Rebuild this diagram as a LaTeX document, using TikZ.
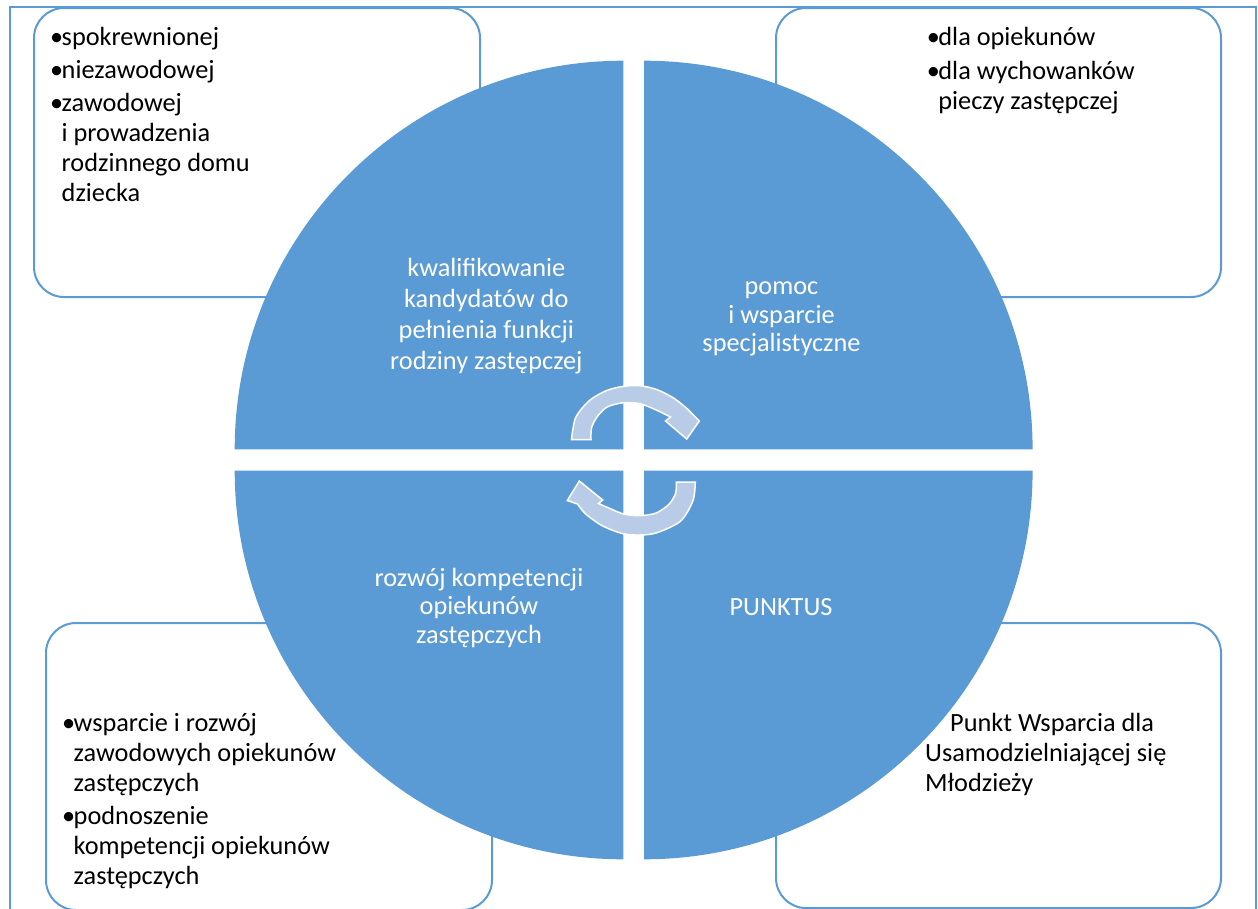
\documentclass[tikz,border=0pt]{standalone}
\usepackage{fontspec}
\setmainfont{Carlito}
\definecolor{qblue}{HTML}{5B9BD5}
\definecolor{arrowfill}{HTML}{B8CCE8}
\newcommand\bul{\makebox[11.5pt][l]{•}}
\newcommand\txtsize{\fontsize{26.3}{30}\selectfont}
\newcommand\cirsize{\fontsize{26.3}{28.5}\selectfont}
\begin{document}
\begin{tikzpicture}[x=1pt,y=-1pt,
  box/.style={draw=qblue, line width=2pt, fill=white, rounded corners=30pt},
  frame/.style={draw=qblue, line width=1.5pt},
  quarter/.style={fill=qblue},
  cyc/.style={fill=arrowfill, draw=white, line width=1.5pt, line join=miter},
  boxtext/.style={inner sep=0pt, anchor=base west, text=black},
  intext/.style={inner sep=0pt, anchor=base, text=white}]
\useasboundingbox (0,0) rectangle (1258,908);
\clip (0,0) rectangle (1258,908);
% outer frame
\draw[frame] (10,7) rectangle (1256,940);
% side boxes
\draw[box] (34,8) rectangle (480,297);
\draw[box] (776,8) rectangle (1221,297);
\draw[box] (46,623) rectangle (492,910);
\draw[box] (776,623) rectangle (1221,908);
% quarters of the disc
\fill[quarter] (623.3,449.3) -- (234.7,449.3) arc[start angle=180, end angle=270, radius=388.6] -- cycle;
\fill[quarter] (644,449.3) -- (644,60.7) arc[start angle=270, end angle=360, radius=388.6] -- cycle;
\fill[quarter] (644,470.7) -- (1032.6,470.7) arc[start angle=0, end angle=90, radius=388.6] -- cycle;
\fill[quarter] (623.3,470.7) -- (623.3,859.3) arc[start angle=90, end angle=180, radius=388.6] -- cycle;
% cycle arrows
\draw[cyc] (571.5,439.5) -- plot[smooth] coordinates {(571.5,439.5) (575.7,417.5) (589.3,400.7) (606.2,390.7) (623.3,386.3) (640,385.7) (657.2,389.7) (674,398.3) (687.5,409)}
  -- (699.3,421) -- (686.7,439) -- (665.5,421) -- (670.5,417)
  -- plot[smooth] coordinates {(670.5,417) (656.2,410) (640,403.7) (623.3,402.7) (607.2,407) (597,417) (591.5,428) (591,439.5)} -- cycle;
\draw[cyc] (695.3,482) -- plot[smooth] coordinates {(695.3,482) (693,500.5) (680.7,521) (657,532.7) (640,535) (623,533.7) (602.8,526) (586,514.3) (577.5,504)}
  -- (567.3,500.5) -- (579.3,481) -- (602.7,500) -- (598.5,503.5)
  -- plot[smooth] coordinates {(598.5,503.5) (607.2,507.3) (623.6,514) (640,515.7) (656.2,513) (669.2,504) (675.7,493) (676.3,482)} -- cycle;
% texts in the disc
\node[intext] (qtl) at (486.3,276.7) {\fontsize{26.3}{31}\selectfont\begin{tabular}[t]{@{}c@{}}kwalifikowanie\\kandydatów do\\pełnienia funkcji\\rodziny zastępczej\end{tabular}};
\node[intext] (qtr) at (781.5,294.5) {\cirsize\begin{tabular}[t]{@{}c@{}}pomoc\\i wsparcie\\specjalistyczne\end{tabular}};
\node[intext] (qbl) at (479,586) {\cirsize\begin{tabular}[t]{@{}c@{}}rozwój kompetencji\\opiekunów\\zastępczych\end{tabular}};
\node[intext] (qbr) at (781,615) {\cirsize PUNKTUS};
% texts in the boxes
\node[boxtext] (btl) at (50,45) {\txtsize\begin{tabular}[t]{@{}l@{}l@{}}\bul&spokrewnionej\\[3pt]\bul&niezawodowej\\[3pt]\bul&zawodowej\\&i prowadzenia\\&rodzinnego domu\\&dziecka\end{tabular}};
\node[boxtext] (btr) at (926.7,45) {\txtsize\begin{tabular}[t]{@{}l@{}l@{}}\bul&dla opiekunów\\[4pt]\bul&dla wychowanków\\&pieczy zastępczej\end{tabular}};
\node[boxtext] (bbl) at (62,731) {\txtsize\begin{tabular}[t]{@{}l@{}l@{}}\bul&wsparcie i rozwój\\&zawodowych opiekunów\\&zastępczych\\[3pt]\bul&podnoszenie\\&kompetencji opiekunów\\&zastępczych\end{tabular}};
\node[boxtext] (bbr) at (925,731) {\txtsize\begin{tabular}[t]{@{}l@{}}\hspace{25pt}Punkt Wsparcia dla\\Usamodzielniającej się\\Młodzieży\end{tabular}};
\end{tikzpicture}
\end{document}
